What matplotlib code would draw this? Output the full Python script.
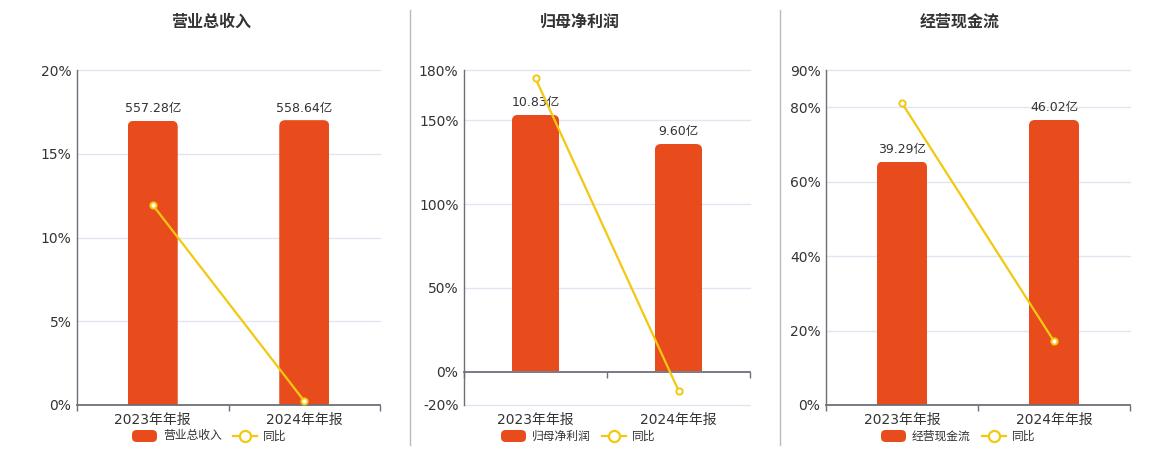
import matplotlib
matplotlib.use("Agg")
import matplotlib.pyplot as plt
from matplotlib.patches import FancyBboxPatch
from matplotlib.lines import Line2D
import matplotlib.transforms as mtrans

plt.rcParams['font.family'] = ['DejaVu Sans', 'Noto Sans CJK SC']

# data
periods = ['2023年年报', '2024年年报']
titles = ['营业总收入', '归母净利润', '经营现金流']
values = [[557.28, 558.64], [10.83, 9.60], [39.29, 46.02]]
value_labels = [['557.28亿', '558.64亿'], ['10.83亿', '9.60亿'], ['39.29亿', '46.02亿']]
yoy = [[11.94, 0.24], [175.0, -11.36], [81.1, 17.13]]
pct_ticks = [[0, 5, 10, 15, 20], [-20, 0, 50, 100, 150, 180], [0, 20, 40, 60, 80, 90]]
pct_lims = [(0, 20), (-20, 180), (0, 90)]
bar_lims = [(0, 657), (-1.438, 12.73), (0, 54.09)]

BAR = '#E84C1D'
LINE = '#F2C811'
AXIS = '#6E7079'
GRID = '#E0E6F1'
TXT = '#333333'

W, H = 1160, 450
fig = plt.figure(figsize=(W / 100, H / 100), dpi=100)

# pixel layout: axes left/right, panel centre
ax_px = [(77, 380), (464, 750), (826, 1130)]
centers = [211, 580, 960]
top_px, bot_px = 70, 405


def fx(x):
    return x / W


def fy(y):
    return 1 - y / H


def round_bars(axb, bars, r=6):
    for rect in bars:
        x0, y0 = rect.get_xy()
        w, h = rect.get_width(), rect.get_height()
        p0 = axb.transData.transform((x0, y0))
        p1 = axb.transData.transform((x0 + w, y0 + h))
        box = FancyBboxPatch((p0[0], p0[1] - r), p1[0] - p0[0], p1[1] - p0[1] + r,
                             boxstyle=f"round,pad=0,rounding_size={r}",
                             transform=mtrans.IdentityTransform(),
                             facecolor=BAR, edgecolor='none', zorder=2)
        axb.add_patch(box)
        box.set_clip_path(rect)
        rect.set_visible(False)


for i in range(3):
    l, r = ax_px[i]
    rect = [fx(l), fy(bot_px), fx(r) - fx(l), fy(top_px) - fy(bot_px)]
    ax = fig.add_axes(rect)
    axb = fig.add_axes(rect)
    axl = fig.add_axes(rect)
    xs = list(range(len(periods)))

    # back: percent scale, grid, labels
    ax.set_xlim(-0.5, 1.5)
    ax.set_ylim(*pct_lims[i])
    ax.set_yticks(pct_ticks[i])
    ax.set_yticklabels([f'{t}%' for t in pct_ticks[i]])
    ax.tick_params(axis='y', length=0, pad=4, labelsize=10, labelcolor=TXT)
    ax.set_xticks([])
    for t in pct_ticks[i]:
        if t != 0:
            ax.axhline(t, color=GRID, lw=1, zorder=0, clip_on=False)
    for s in ['top', 'right', 'bottom']:
        ax.spines[s].set_visible(False)
    ax.spines['left'].set_color(AXIS)
    ax.spines['left'].set_linewidth(1)
    for k, p in enumerate(periods):
        ax.text(k, -0.045, p, transform=ax.get_xaxis_transform(), ha='center', va='center',
                fontsize=10, color=TXT)

    # bars on hidden scale
    axb.set_xlim(-0.5, 1.5)
    axb.set_ylim(*bar_lims[i])
    axb.axis('off')
    axb.patch.set_visible(False)
    bars = axb.bar(xs, values[i], width=0.33, color=BAR)
    round_bars(axb, bars)
    for k, v in enumerate(values[i]):
        axb.annotate(value_labels[i][k], (k, v), xytext=(0, 4), textcoords='offset points',
                     ha='center', va='bottom', fontsize=9, color=TXT)

    # front: yoy line + zero axis line
    axl.set_xlim(-0.5, 1.5)
    axl.set_ylim(*pct_lims[i])
    axl.patch.set_visible(False)
    for s in ['top', 'right', 'left']:
        axl.spines[s].set_visible(False)
    axl.spines['bottom'].set_position(('data', 0))
    axl.spines['bottom'].set_color(AXIS)
    axl.spines['bottom'].set_linewidth(1.3)
    axl.set_xticks([-0.5, 0.5, 1.5])
    axl.set_xticklabels([])
    axl.tick_params(axis='x', length=4, color=AXIS, width=1)
    axl.set_yticks([])
    axl.plot(xs, yoy[i], color=LINE, lw=1.6, marker='o', ms=4.5, mfc='white',
             mec=LINE, mew=1.4, clip_on=False, zorder=3)

    # title
    fig.text(fx(centers[i]), fy(22), titles[i], ha='center', va='center',
             fontsize=11.5, fontweight='bold', color=TXT)

    # legend
    c = centers[i]
    ly = 436
    fig.patches.append(FancyBboxPatch((fx(c - 79), fy(ly + 6)), fx(25), 12 / H,
                                      boxstyle="round,pad=0,rounding_size=0.004",
                                      transform=fig.transFigure, facecolor=BAR,
                                      edgecolor='none', mutation_aspect=W / H))
    fig.text(fx(c - 48), fy(ly), titles[i], ha='left', va='center', fontsize=8.5, color=TXT)
    fig.lines.append(Line2D([fx(c + 22), fx(c + 46)], [fy(ly), fy(ly)], transform=fig.transFigure,
                            color=LINE, lw=1.6))
    fig.lines.append(Line2D([fx(c + 34)], [fy(ly)], transform=fig.transFigure, marker='o',
                            ms=8, mfc='white', mec=LINE, mew=1.6, color=LINE))
    fig.text(fx(c + 52), fy(ly), '同比', ha='left', va='center', fontsize=8.5, color=TXT)

# separators
for x in [410, 780]:
    fig.lines.append(Line2D([fx(x), fx(x)], [fy(10), fy(445)], transform=fig.transFigure,
                            color='#BBBBBB', lw=1))

fig.savefig('out.png', dpi=100)
